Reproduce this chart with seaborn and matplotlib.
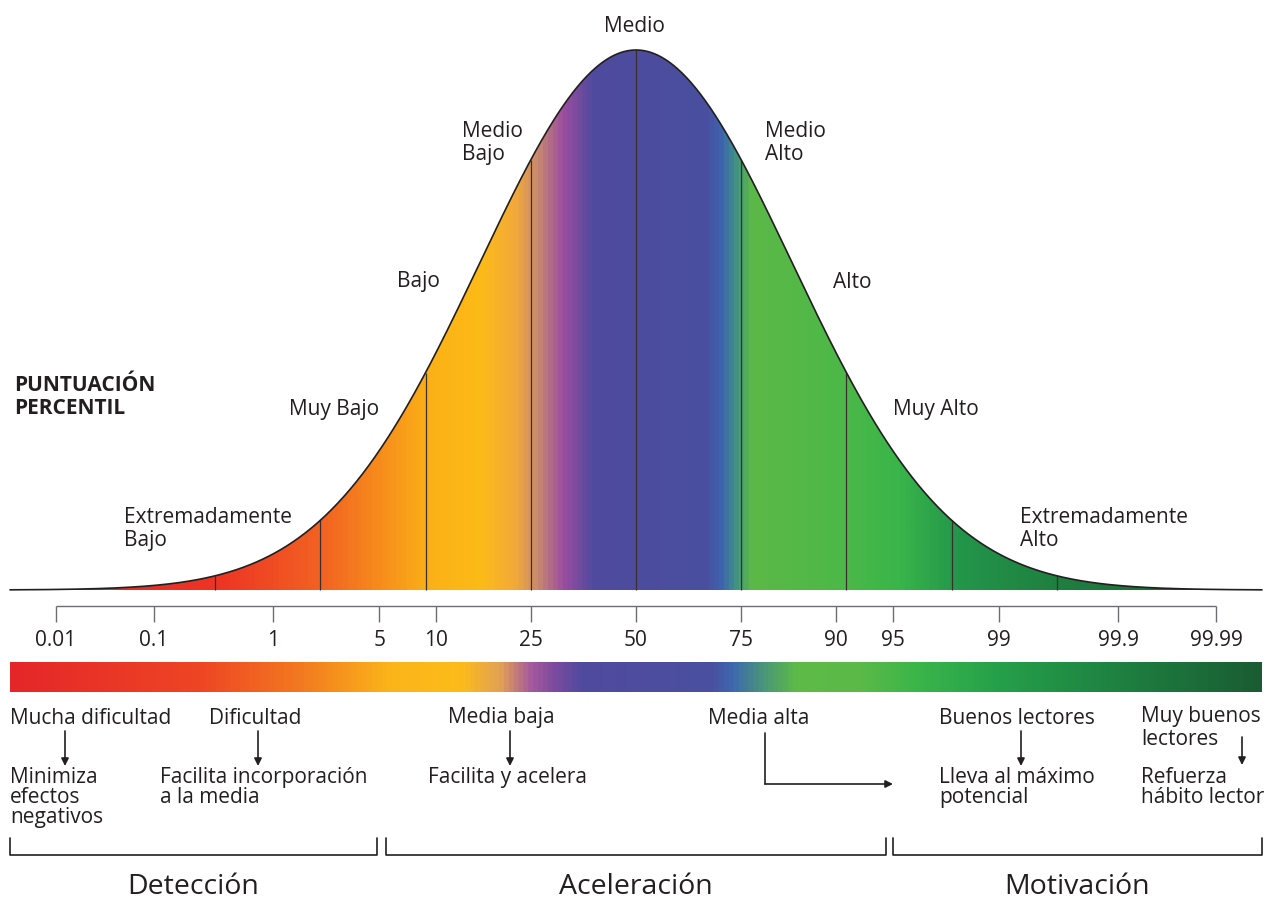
import numpy as np
import matplotlib
matplotlib.use("Agg")
import matplotlib.pyplot as plt
import seaborn as sns
from matplotlib.colors import LinearSegmentedColormap
from matplotlib.patches import Polygon

# percentile scale: tick labels and their z-scores
pct_labels = ["0.01", "0.1", "1", "5", "10", "25", "50", "75", "90", "95", "99", "99.9", "99.99"]
pct_z = [-3.719, -3.090, -2.326, -1.645, -1.282, -0.674, 0.0, 0.674, 1.282, 1.645, 2.326, 3.090, 3.719]

# band boundaries inside the curve (quartile steps, in z)
band_z = [-2.698, -2.023, -1.349, -0.674, 0.0, 0.674, 1.349, 2.023, 2.698]

# curve category labels
cat_labels = ["Extremadamente\nBajo", "Muy Bajo", "Bajo", "Medio\nBajo", "Medio",
              "Medio\nAlto", "Alto", "Muy Alto", "Extremadamente\nAlto"]

# groups under the bar
group_names = ["Detección", "Aceleración", "Motivación"]
level_names = ["Mucha dificultad", "Dificultad", "Media baja", "Media alta",
               "Buenos lectores", "Muy buenos\nlectores"]
actions = ["Minimiza\nefectos\nnegativos", "Facilita incorporación\na la media",
           "Facilita y acelera", "Lleva al máximo\npotencial", "Refuerza\nhábito lector"]

# colour stops (pixel position across the picture, colour)
curve_stops = [(10, "#D9252A"), (220, "#EE3524"), (325, "#F26522"), (429, "#FBB116"),
               (480, "#FDBB17"), (515, "#F2A93A"), (537, "#C98A6E"), (563, "#9C4DA0"),
               (593, "#4F4A9E"), (707, "#4A4FA0"), (722, "#3E64AF"), (735, "#3F8E8A"),
               (752, "#5CB947"), (845, "#4CB848"), (900, "#39B54A"), (960, "#23964A"),
               (1060, "#1F7F40"), (1262, "#1A5E33")]
bar_stops = [(10, "#E52629"), (200, "#EE4624"), (300, "#F37A20"), (390, "#FBB519"),
             (460, "#FDBC1A"), (500, "#E2A155"), (530, "#A75A9C"), (555, "#7B4A9F"),
             (580, "#514A9E"), (713, "#4A50A0"), (733, "#3E68AF"), (765, "#4A9778"),
             (797, "#5DBA47"), (860, "#5BBA47"), (920, "#3AB54A"), (1000, "#25A04A"),
             (1100, "#1F8643"), (1262, "#1A5C33")]

TXT = "#231F20"
W, H = 1267, 899
X0, SIG = 636, 156      # centre and sigma in pixels
BASE, PEAK = 590, 540   # baseline y and peak height in pixels


def X(px):
    return (px - X0) / SIG


def Y(py):
    return (BASE - py) / PEAK


def make_cmap(stops, name):
    lo, hi = stops[0][0], stops[-1][0]
    return LinearSegmentedColormap.from_list(name, [((p - lo) / (hi - lo), c) for p, c in stops])


sns.set_theme(style="white")
plt.rcParams["font.family"] = ["Open Sans", "DejaVu Sans"]

fig = plt.figure(figsize=(W / 100, H / 100), dpi=100)
ax = fig.add_axes([0, 0, 1, 1])

# normal curve
z = np.linspace(X(10), X(1262), 800)
dens = np.exp(-z ** 2 / 2)

grad = np.linspace(0, 1, 1024)[None, :]
img = ax.imshow(grad, extent=[z[0], z[-1], 0, 1.0], aspect="auto", origin="lower",
                cmap=make_cmap(curve_stops, "curve"), zorder=1)
verts = np.column_stack([np.r_[z, z[::-1]], np.r_[dens, np.zeros_like(dens)]])
clip = Polygon(verts, closed=True, fc="none", ec="none", transform=ax.transData)
ax.add_patch(clip)
img.set_clip_path(clip)

sns.lineplot(x=z, y=dens, color=TXT, lw=1.2, ax=ax, zorder=3)
bz = np.array(band_z)
ax.vlines(bz, 0, np.exp(-bz ** 2 / 2), color="#3A2E2E", lw=0.9, zorder=2)

# curve labels
lab_pos = [(124, 507, "left"), (334, 409, "center"), (418, 282, "center"), (462, 121, "left"),
           (634, 27, "center"), (765, 121, "left"), (852, 282, "center"), (936, 409, "center"),
           (1020, 507, "left")]
for lab, (px, py, ha) in zip(cat_labels, lab_pos):
    va = "top" if "\n" in lab else "center"
    ax.text(X(px), Y(py), lab, ha=ha, va=va, fontsize=15, color=TXT, linespacing=1.12)

ax.text(X(14), Y(375), "PUNTUACIÓN\nPERCENTIL", ha="left", va="top", fontsize=15,
        fontweight="bold", color=TXT, linespacing=1.1)

# percentile axis
pz = np.array(pct_z)
ax.hlines(Y(606), pz[0], pz[-1], color="#6D6E71", lw=1.0)
ax.vlines(pz, Y(622), Y(606), color="#6D6E71", lw=1.0)
for lab, zz in zip(pct_labels, pz):
    ax.text(zz, Y(640), lab, ha="center", va="center", fontsize=15, color=TXT)

# gradient bar
ax.imshow(grad, extent=[X(10), X(1262), Y(692), Y(662)], aspect="auto",
          cmap=make_cmap(bar_stops, "bar"), zorder=1)

# level labels, arrows and actions
level_pos = [(10, 718), (209, 718), (448, 718), (708, 718), (939, 718), (1141, 706)]
for lab, (px, py) in zip(level_names, level_pos):
    va = "top" if "\n" in lab else "center"
    ax.text(X(px), Y(py), lab, ha="left", va=va, fontsize=15, color=TXT, linespacing=1.12)

action_pos = [(10, 767), (160, 767), (428, 767), (939, 767), (1141, 767)]
for lab, (px, py) in zip(actions, action_pos):
    ax.text(X(px), Y(py), lab, ha="left", va="top", fontsize=15, color=TXT, linespacing=0.95)

arw = dict(arrowstyle="-|>", color=TXT, lw=1.2, mutation_scale=11, shrinkA=0, shrinkB=0)
for px, y0, y1 in [(65, 731, 766), (258, 731, 766), (510, 731, 766), (1021, 731, 766), (1242, 737, 765)]:
    ax.annotate("", xy=(X(px), Y(y1)), xytext=(X(px), Y(y0)), arrowprops=arw)
ax.plot([X(765), X(765)], [Y(733), Y(784)], color=TXT, lw=1.2)
ax.annotate("", xy=(X(893), Y(784)), xytext=(X(765), Y(784)), arrowprops=arw)

# brackets and group names
brackets = [(10, 377), (386, 886), (893, 1262)]
for (a, b), name in zip(brackets, group_names):
    ax.plot([X(a), X(a), X(b), X(b)], [Y(838), Y(855), Y(855), Y(838)], color=TXT, lw=1.2)
    ax.text(X((a + b) / 2), Y(887), name, ha="center", va="center", fontsize=20.5, color=TXT)

ax.set_xlim(X(0), X(W))
ax.set_ylim(Y(H), Y(0))
ax.axis("off")

fig.savefig("out.png", dpi=100, facecolor="white")
